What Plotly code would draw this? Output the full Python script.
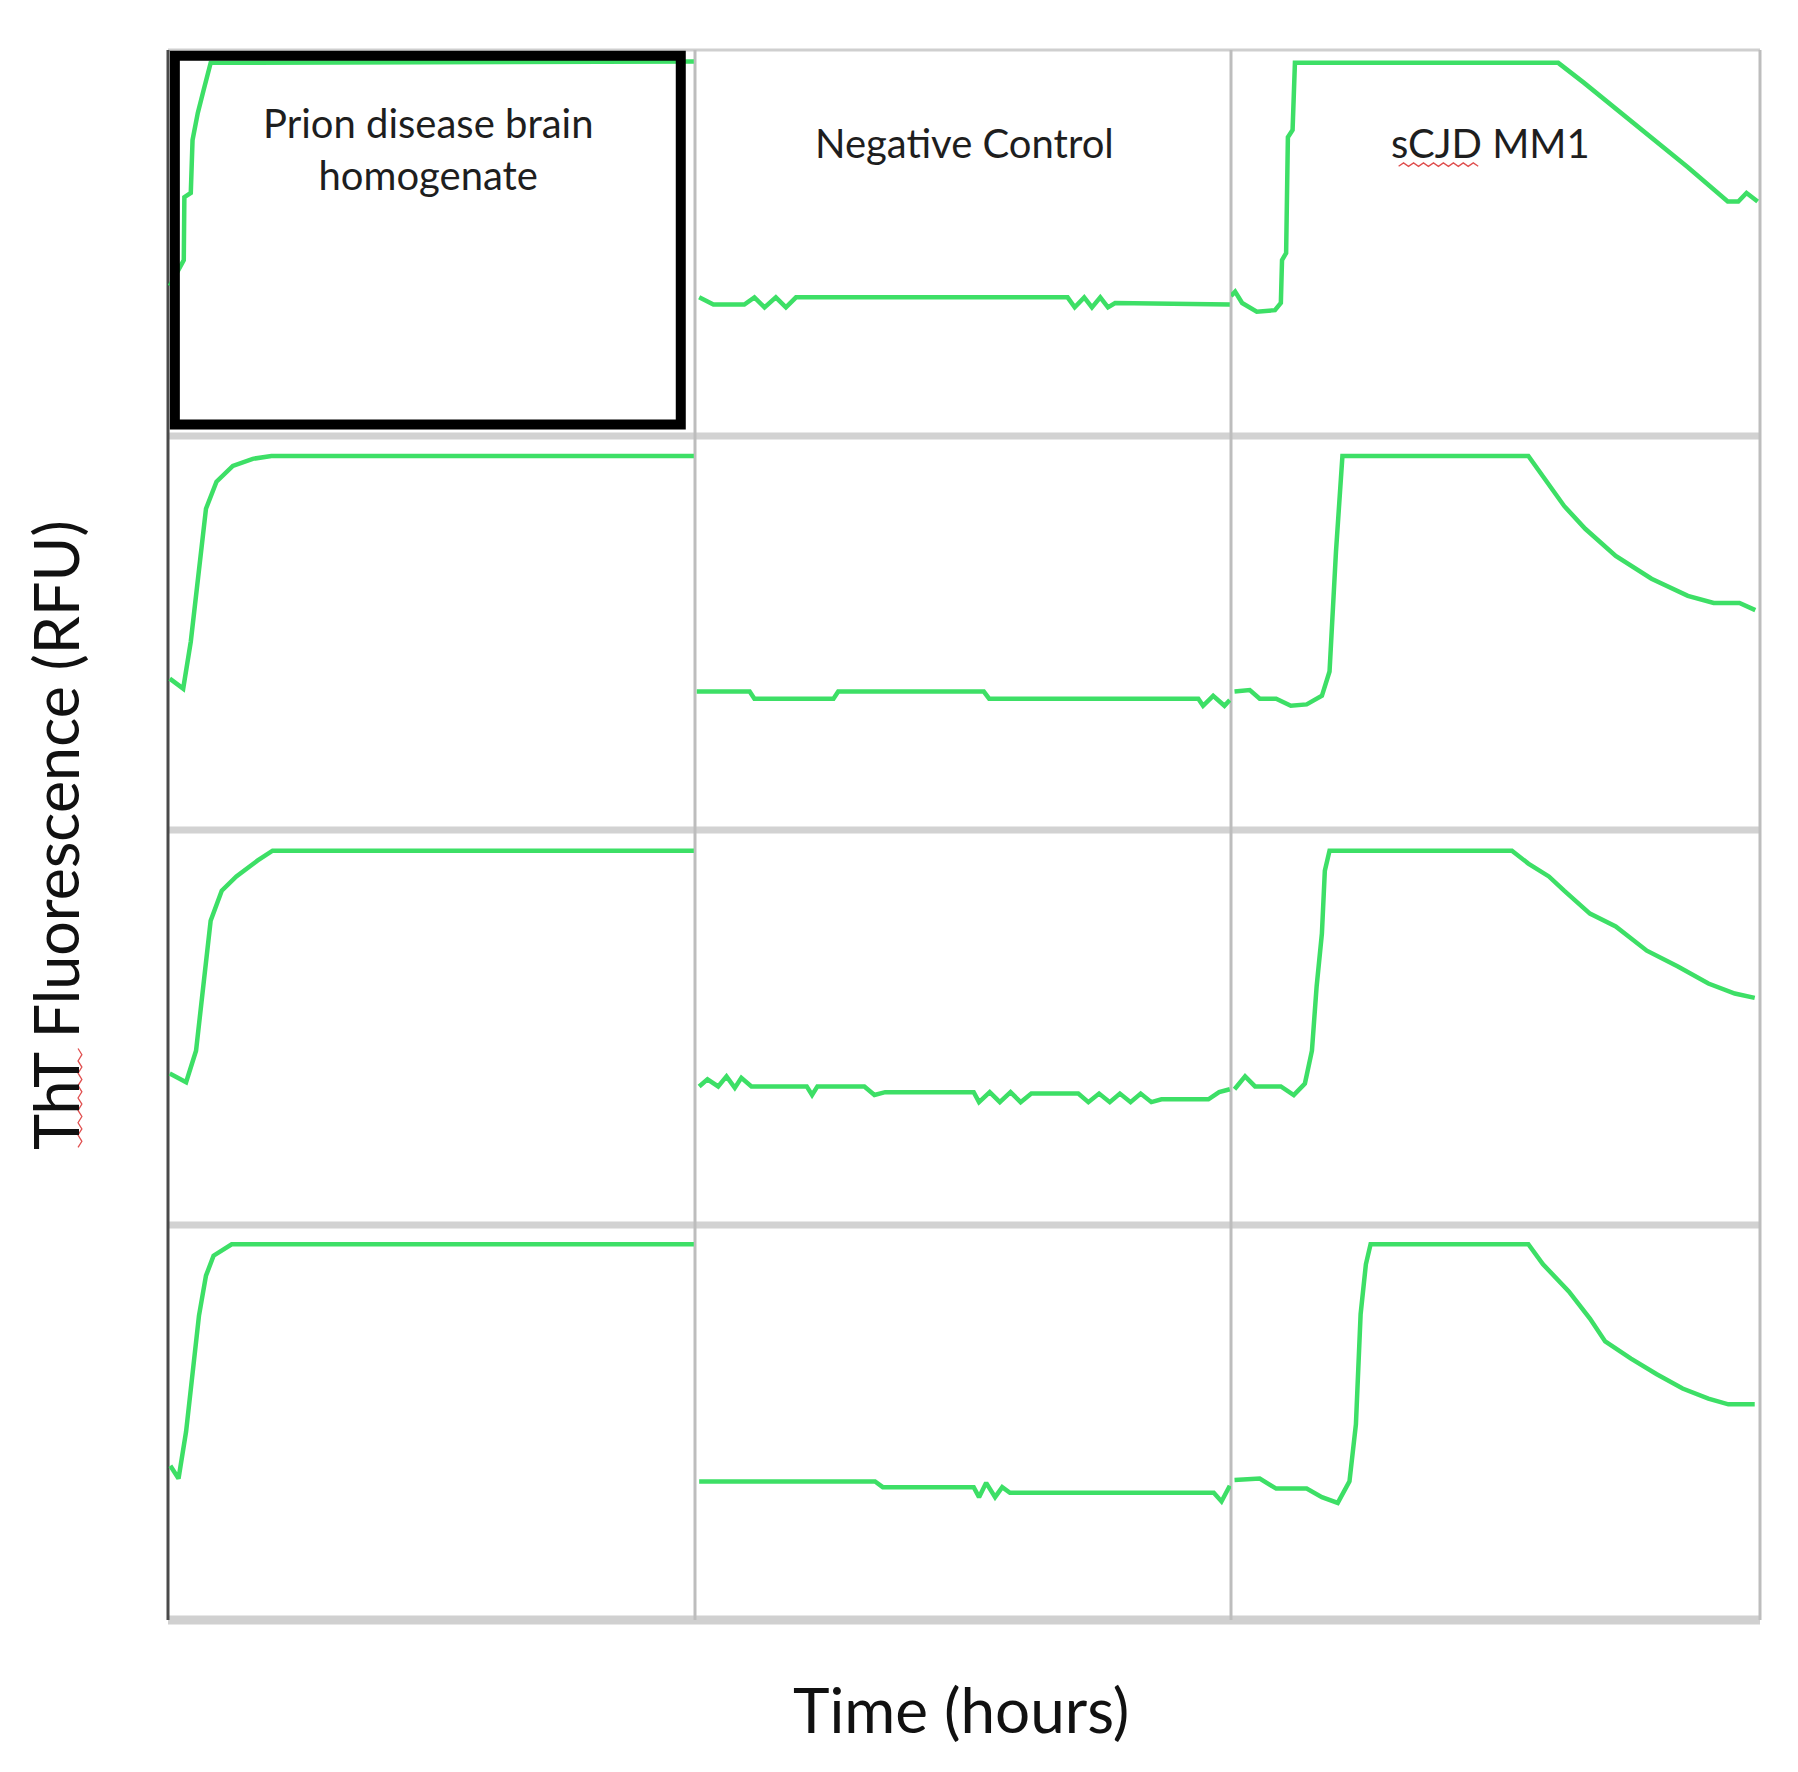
import plotly.graph_objects as go
from plotly.subplots import make_subplots

# RT-QuIC wells, time in hours and ThT fluorescence in RFU
prion_1_t = [0.3, 2.7, 2.8, 3.9, 4.2, 5.1, 6.1, 7.3, 90.0]
prion_1_rfu = [105000, 123000, 167000, 170000, 207000, 226000, 242000, 261000, 262000]
prion_2_t = [0.3, 2.6, 3.9, 5.3, 6.5, 8.3, 11.1, 14.5, 17.7, 90.0]
prion_2_rfu = [106000, 99000, 132000, 185000, 225000, 244000, 255000, 260000, 262000, 262000]
prion_3_t = [0.3, 3.1, 4.8, 5.6, 6.5, 7.3, 9.2, 11.7, 15.3, 17.9, 90.0]
prion_3_rfu = [106000, 100000, 122000, 153000, 185000, 213000, 234000, 244000, 255000, 262000, 262000]
prion_4_t = [0.4, 1.8, 3.1, 4.3, 5.3, 6.5, 7.8, 10.9, 90.0]
prion_4_rfu = [108000, 99000, 132000, 178000, 213000, 241000, 255000, 263000, 263000]

neg_1_t = [0.7, 3.1, 8.3, 10.0, 11.7, 13.6, 15.3, 17.0, 62.7, 63.9, 65.5, 66.8, 68.2, 69.5, 70.7, 90.0]
neg_1_rfu = [97000, 92000, 92000, 97000, 90000, 97000, 90000, 97000, 97000, 90000, 97000, 90000,
             97000, 90000, 93000, 92000]
neg_2_t = [0.3, 9.2, 10.0, 23.3, 24.1, 48.6, 49.5, 84.7, 85.5, 87.2, 89.1, 90.0]
neg_2_rfu = [97000, 97000, 92000, 92000, 97000, 97000, 92000, 92000, 87000, 94000, 87000, 91000]
neg_3_t = [0.7, 2.1, 3.9, 5.3, 6.7, 7.8, 9.5, 18.8, 19.7, 20.6, 28.5, 30.2, 32.0, 46.9, 47.8, 49.6,
           51.3, 53.1, 54.8, 56.6, 64.5, 66.2, 68.0, 69.8, 71.5, 73.3, 75.0, 76.8, 78.5, 86.4, 88.2, 90.0]
neg_3_rfu = [97000, 102000, 97000, 104000, 96000, 103000, 97000, 97000, 91000, 97000, 97000, 91000,
             93000, 93000, 86000, 93000, 86000, 93000, 86000, 92000, 92000, 86000, 92000, 86000,
             92000, 86000, 92000, 86000, 88000, 88000, 93000, 95000]
neg_4_t = [0.7, 30.3, 31.6, 46.9, 47.8, 49.0, 50.5, 51.7, 53.0, 87.3, 88.6, 90.0]
neg_4_rfu = [97000, 97000, 93000, 93000, 86000, 96000, 86000, 93000, 89000, 89000, 83000, 94000]

scjd_1_t = [0.0, 0.7, 1.9, 4.4, 7.5, 8.5, 8.7, 9.4, 9.7, 10.5, 10.9, 55.8, 60.2, 65.3, 69.7, 77.9,
            84.7, 86.5, 87.9, 89.8]
scjd_1_rfu = [98000, 101000, 93000, 87000, 88000, 93000, 123000, 128000, 209000, 214000, 261000,
              261000, 247000, 230000, 216000, 188000, 164000, 164000, 170000, 164000]
scjd_2_t = [0.6, 3.2, 4.9, 7.7, 10.2, 12.9, 15.5, 16.8, 17.9, 18.5, 19.0, 50.7, 53.4, 56.8, 60.4,
            65.6, 71.7, 77.9, 82.3, 86.7, 89.4]
scjd_2_rfu = [97000, 98000, 92000, 92000, 87000, 88000, 94000, 111000, 195000, 236000, 262000,
              262000, 246000, 227000, 211000, 192000, 176000, 164000, 159000, 159000, 154000]
scjd_3_t = [0.6, 2.4, 4.1, 8.5, 10.7, 12.6, 13.8, 14.6, 15.5, 16.0, 16.8, 47.9, 50.7, 54.2, 56.8,
            61.2, 65.6, 70.9, 76.2, 81.4, 85.9, 89.3]
scjd_3_rfu = [95000, 104000, 97000, 97000, 91000, 99000, 122000, 167000, 204000, 248000, 262000,
              262000, 253000, 244000, 234000, 218000, 209000, 192000, 181000, 169000, 162000, 159000]
scjd_4_t = [0.6, 4.9, 7.7, 12.9, 15.5, 18.2, 20.2, 21.3, 22.1, 23.0, 23.8, 50.7, 53.2, 57.6, 61.2,
            63.8, 68.2, 72.6, 77.0, 81.4, 84.8, 89.3]
scjd_4_rfu = [98000, 99000, 92000, 92000, 86000, 82000, 97000, 137000, 214000, 249000, 263000,
              263000, 249000, 230000, 211000, 195000, 183000, 172000, 162000, 155000, 151000, 151000]

panel_titles = ["Prion disease brain<br>homogenate", "Negative Control", "sCJD MM1"]
x_title = "Time (hours)"
y_title = "ThT Fluorescence (RFU)"

wells = [
    [(prion_1_t, prion_1_rfu), (neg_1_t, neg_1_rfu), (scjd_1_t, scjd_1_rfu)],
    [(prion_2_t, prion_2_rfu), (neg_2_t, neg_2_rfu), (scjd_2_t, scjd_2_rfu)],
    [(prion_3_t, prion_3_rfu), (neg_3_t, neg_3_rfu), (scjd_3_t, scjd_3_rfu)],
    [(prion_4_t, prion_4_rfu), (neg_4_t, neg_4_rfu), (scjd_4_t, scjd_4_rfu)],
]

GREEN = "#3ddf66"
FONT = "Lato"

fig = make_subplots(rows=4, cols=3, horizontal_spacing=0, vertical_spacing=0,
                    row_heights=[386, 394, 395, 395], column_widths=[527, 536, 529])

y_top = [270000, 276000, 276500, 276500]
for r, row in enumerate(wells):
    for c, (t, rfu) in enumerate(row):
        fig.add_trace(go.Scatter(x=t, y=rfu, mode="lines", line=dict(color=GREEN, width=4.5),
                                 showlegend=False, hoverinfo="skip"), row=r + 1, col=c + 1)
        fig.update_xaxes(range=[0, 90.2], row=r + 1, col=c + 1)
        fig.update_yaxes(range=[0, y_top[r]], row=r + 1, col=c + 1)

fig.update_xaxes(visible=False, showgrid=False, zeroline=False)
fig.update_yaxes(visible=False, showgrid=False, zeroline=False)

# panel frame lines taken from the subplot domains
col_dom = [fig.layout.xaxis.domain, fig.layout.xaxis2.domain, fig.layout.xaxis3.domain]
row_dom = [fig.layout.yaxis.domain, fig.layout.yaxis4.domain, fig.layout.yaxis7.domain,
           fig.layout.yaxis10.domain]

shapes = []
h_lines = [(1, "#cfcfcf", 3)] + [(d[0], "#d2d2d2", 7) for d in row_dom[:-1]] + [(0, "#d0d0d0", 9)]
for y, col, w in h_lines:
    shapes.append(dict(type="line", xref="paper", yref="paper", x0=0, x1=1, y0=y, y1=y,
                       line=dict(color=col, width=w), layer="below"))
v_lines = [(d[1], "#bdbdbd", 3) for d in col_dom]
for x, col, w in v_lines:
    shapes.append(dict(type="line", xref="paper", yref="paper", x0=x, x1=x, y0=0, y1=1,
                       line=dict(color=col, width=w), layer="below"))
shapes.append(dict(type="line", xref="paper", yref="paper", x0=0, x1=0, y0=0, y1=1,
                   line=dict(color="#4a4a4a", width=3), layer="below"))

# black box around the positive control well
shapes.append(dict(type="rect", xref="x domain", yref="y domain", x0=0.013, x1=0.973,
                   y0=0.03, y1=0.985, line=dict(color="black", width=10), layer="above"))


def squiggle(x0, y0, x1, y1, n=10, amp=0.0025, vertical=False):
    pts = []
    for i in range(n + 1):
        f = i / n
        off = amp if i % 2 else -amp
        if vertical:
            pts.append((x0 + off, y0 + (y1 - y0) * f))
        else:
            pts.append((x0 + (x1 - x0) * f, y0 + off))
    return "M " + " L ".join(f"{px:.4f},{py:.4f}" for px, py in pts)


# spell-check underline marks seen in the source figure
shapes.append(dict(type="path", xref="paper", yref="paper",
                   path=squiggle(0.773, 0.927, 0.823, 0.927, n=16, amp=0.0011),
                   line=dict(color="#e05050", width=1.3)))
shapes.append(dict(type="path", xref="paper", yref="paper",
                   path=squiggle(-0.0553, 0.301, -0.0553, 0.364, n=16, amp=0.0012, vertical=True),
                   line=dict(color="#e05050", width=1.3)))

annotations = []
title_x = [0.493, 0.502, 0.49]
title_y = [0.744, 0.76, 0.76]
axes = ["x", "x2", "x3"]
ys = ["y", "y2", "y3"]
for i, txt in enumerate(panel_titles):
    annotations.append(dict(text=txt, xref=f"{axes[i]} domain", yref=f"{ys[i]} domain",
                            x=title_x[i], y=title_y[i], showarrow=False,
                            font=dict(family=FONT, size=40, color="#1e1e1e"),
                            xanchor="center", yanchor="middle"))
annotations.append(dict(text=x_title, xref="paper", yref="paper", x=0.498, y=-0.057,
                        showarrow=False, font=dict(family=FONT, size=62, color="#111111"),
                        xanchor="center", yanchor="middle"))
annotations.append(dict(text=y_title, xref="paper", yref="paper", x=-0.071, y=0.5,
                        textangle=-90, showarrow=False,
                        font=dict(family=FONT, size=61, color="#111111"),
                        xanchor="center", yanchor="middle"))

# page body adds an 8px margin, so the figure is sized to leave room for it
fig.update_layout(
    width=1790,
    height=1764,
    margin=dict(l=160, r=38, t=42, b=152),
    paper_bgcolor="white",
    plot_bgcolor="white",
    shapes=shapes,
    annotations=annotations,
)

fig.write_html("out.html")
